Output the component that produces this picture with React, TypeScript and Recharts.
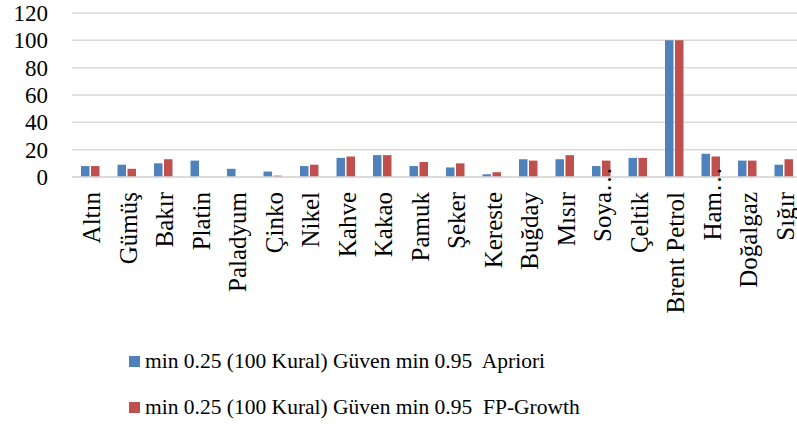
import { BarChart, Bar, CartesianGrid, XAxis, YAxis, Legend } from 'recharts'

const categories = [
  'Altın', 'Gümüş', 'Bakır', 'Platin', 'Paladyum', 'Çinko', 'Nikel', 'Kahve', 'Kakao', 'Pamuk',
  'Şeker', 'Kereste', 'Buğday', 'Mısır', 'Soya…', 'Çeltik', 'Brent Petrol', 'Ham…', 'Doğalgaz', 'Sığır',
]
const apriori = [8, 9, 10, 12, 6, 4, 8, 14, 16, 8, 7, 2, 13, 13, 8, 14, 100, 17, 12, 9]
const fpGrowth = [8, 6, 13, 0, 0, 1, 9, 15, 16, 11, 10, 3.5, 12, 16, 12, 14, 100, 15, 12, 13]
const yTicks = [0, 20, 40, 60, 80, 100, 120]

const aprioriName = 'min 0.25 (100 Kural) Güven min 0.95  Apriori'
const fpName = 'min 0.25 (100 Kural) Güven min 0.95  FP-Growth'

const data = categories.map((name, i) => ({
  name,
  apriori: apriori[i],
  fp: fpGrowth[i],
}))

const BLUE = '#4F81BD'
const RED = '#C0504D'
const FONT = 'Liberation Serif, serif'

function CategoryTick({ x, y, payload }: any) {
  const label = String(payload.value)
  const cut = label.endsWith('…')
  const main = cut ? label.slice(0, -1) : label
  return (
    <g transform={`translate(${x},${y + 15})`}>
      <text transform="rotate(-90)" textAnchor="end" dy="0.4em" fontSize={25} fontFamily={FONT} fill="#000">
        {main}
      </text>
      {cut ? (
        <text transform="rotate(-90)" textAnchor="start" dy="0.4em" fontSize={25} fontFamily={FONT} fill="#000">
          …
        </text>
      ) : null}
    </g>
  )
}

function ValueTick({ x, y, payload }: any) {
  return (
    <text x={x} y={y} dy="0.35em" textAnchor="end" fontSize={23} fontFamily={FONT} fill="#000">
      {payload.value}
    </text>
  )
}

function LegendBox() {
  const rows = [
    { color: BLUE, text: aprioriName },
    { color: RED, text: fpName },
  ]
  return (
    <div style={{ fontFamily: FONT, fontSize: 21.5, color: '#000' }}>
      {rows.map((r) => (
        <div key={r.text} style={{ display: 'flex', alignItems: 'center', height: 46 }}>
          <span style={{ width: 11, height: 11, background: r.color, marginRight: 5, flexShrink: 0 }} />
          <span style={{ whiteSpace: 'pre', fontFamily: FONT }}>{r.text}</span>
        </div>
      ))}
    </div>
  )
}

export default function App() {
  return (
    <div style={{ position: 'absolute', left: 0, top: 0, width: 797, height: 428, overflow: 'hidden', background: '#fff' }}>
      <BarChart
        width={802}
        height={428}
        data={data}
        margin={{ top: 13, right: 0, bottom: 0, left: 0 }}
        barSize={8.5}
        barGap={1.5}
      >
        <CartesianGrid vertical={false} stroke="#d9d9d9" strokeWidth={1.5} />
        <XAxis
          dataKey="name"
          interval={0}
          height={251}
          tickLine={false}
          tickSize={0}
          tickMargin={0}
          axisLine={{ stroke: '#d9d9d9', strokeWidth: 1.5 }}
          tick={<CategoryTick />}
        />
        <YAxis
          width={72}
          domain={[0, 120]}
          ticks={yTicks}
          interval={0}
          axisLine={false}
          tickLine={false}
          tickSize={0}
          tickMargin={24}
          tick={<ValueTick />}
        />
        <Legend
          layout="vertical"
          verticalAlign="middle"
          align="center"
          content={<LegendBox />}
          wrapperStyle={{ position: 'absolute', left: 129, top: 338, width: 620 }}
        />
        <Bar dataKey="apriori" name={aprioriName} fill={BLUE} isAnimationActive={false} />
        <Bar dataKey="fp" name={fpName} fill={RED} isAnimationActive={false} />
      </BarChart>
    </div>
  )
}
